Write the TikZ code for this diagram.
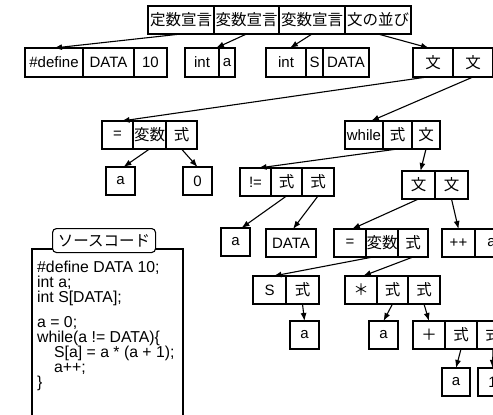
\documentclass[tikz,border=0pt]{standalone}
\usepackage{fontspec}
\setmainfont{Liberation Sans}
\newfontfamily\jp{Noto Sans CJK JP}
\usetikzlibrary{arrows.meta,positioning}

\begin{document}
\begin{tikzpicture}[x=1pt,y=-1pt,
  cell/.style={draw,line width=1.1pt,inner sep=0pt,outer sep=0pt,minimum height=28pt,
    font=\fontsize{15}{18}\selectfont},
  jcell/.style={cell,font=\fontsize{15.5}{18}\selectfont\jp},
  arr/.style={-{Latex[length=8pt,width=6pt]},line width=1.1pt}]

\useasboundingbox (0,0) rectangle (493,415);
\clip (0,0) rectangle (493,415);

% Top row
\node[jcell,minimum width=66pt,anchor=north west] (tdecl) at (148,6) {定数宣言};
\node[jcell,minimum width=65pt,right=0pt of tdecl] (vdeclA) {変数宣言};
\node[jcell,minimum width=66pt,right=0pt of vdeclA] (vdeclB) {変数宣言};
\node[jcell,minimum width=66pt,right=0pt of vdeclB] (slist) {文の並び};

% Declarations and statement list
\node[cell,minimum width=58pt,minimum height=29pt,anchor=north west] (def) at (25,48) {\#define};
\node[cell,minimum width=51pt,minimum height=29pt,right=0pt of def] (defname) {DATA};
\node[cell,minimum width=33pt,minimum height=29pt,right=0pt of defname] (defval) {10};

\node[cell,minimum width=34pt,minimum height=29pt,anchor=north west] (inta) at (185,48) {int};
\node[cell,minimum width=16pt,minimum height=29pt,right=0pt of inta] (intavar) {a};

\node[cell,minimum width=40pt,minimum height=29pt,anchor=north west] (ints) at (266,48) {int};
\node[cell,minimum width=17pt,minimum height=29pt,right=0pt of ints] (intsvar) {S};
\node[cell,minimum width=46pt,minimum height=29pt,right=0pt of intsvar] (intssize) {DATA};

\node[jcell,minimum width=40pt,minimum height=29pt,anchor=north west] (stA) at (413,48) {文};
\node[jcell,minimum width=40pt,minimum height=29pt,right=0pt of stA] (stB) {文};

% a = 0
\node[cell,minimum width=31pt,anchor=north west] (asgop) at (102,121) {=};
\node[jcell,minimum width=33pt,right=0pt of asgop] (asgvar) {変数};
\node[jcell,minimum width=31pt,right=0pt of asgvar] (asgexp) {式};
\node[cell,minimum width=29pt,anchor=north west] (asga) at (106,167) {a};
\node[cell,minimum width=29pt,anchor=north west] (asgzero) at (183,167) {0};

% while
\node[cell,minimum width=38pt,anchor=north west] (whl) at (345,121) {while};
\node[jcell,minimum width=29pt,right=0pt of whl] (whlexp) {式};
\node[jcell,minimum width=28pt,right=0pt of whlexp] (whlstmt) {文};

% condition
\node[cell,minimum width=31pt,anchor=north west] (neop) at (240,168) {!=};
\node[jcell,minimum width=31pt,right=0pt of neop] (neA) {式};
\node[jcell,minimum width=32pt,right=0pt of neA] (neB) {式};
\node[cell,minimum width=29pt,anchor=north west] (nea) at (221,228) {a};
\node[cell,minimum width=50pt,anchor=north west] (nedata) at (266,229) {DATA};

% loop body
\node[jcell,minimum width=33pt,anchor=north west] (bodyA) at (402,171) {文};
\node[jcell,minimum width=33pt,right=0pt of bodyA] (bodyB) {文};

\node[cell,minimum width=32pt,anchor=north west] (setop) at (334,229) {=};
\node[jcell,minimum width=32pt,right=0pt of setop] (setvar) {変数};
\node[jcell,minimum width=30pt,right=0pt of setvar] (setexp) {式};

\node[cell,minimum width=33pt,anchor=north west] (incop) at (442,229) {++};
\node[cell,minimum width=33pt,right=0pt of incop] (incvar) {a};

% S[a]
\node[cell,minimum width=33pt,anchor=north west] (arr) at (253,276) {S};
\node[jcell,minimum width=33pt,right=0pt of arr] (arridx) {式};
\node[cell,minimum width=29pt,anchor=north west] (arra) at (290,321) {a};

% a * (a + 1)
\node[jcell,minimum width=32pt,anchor=north west] (mulop) at (345,276) {＊};
\node[jcell,minimum width=31pt,right=0pt of mulop] (mulA) {式};
\node[jcell,minimum width=32pt,right=0pt of mulA] (mulB) {式};
\node[cell,minimum width=29pt,anchor=north west] (mula) at (369,321) {a};

\node[jcell,minimum width=32pt,anchor=north west] (addop) at (413,321) {＋};
\node[jcell,minimum width=32pt,right=0pt of addop] (addA) {式};
\node[jcell,minimum width=32pt,right=0pt of addA] (addB) {式};
\node[cell,minimum width=28pt,anchor=north west] (adda) at (442,368) {a};
\node[cell,minimum width=29pt,anchor=north west] (addone) at (478,368) {1};

% Arrows
\draw[arr] (tdecl.south) -- (def.north);
\draw[arr] (vdeclA.south) -- ([xshift=-3pt]inta.north east);
\draw[arr] (vdeclB.south) -- ([xshift=4pt]ints.north);
\draw[arr] (slist.south) -- ([xshift=-4pt]stA.north);
\draw[arr] ([xshift=-6pt]stA.south) -- ([xshift=4pt]asgop.north);
\draw[arr] (stB.south) -- ([xshift=7pt]whl.north);
\draw[arr] (asgvar.south) -- ([xshift=3pt]asga.north);
\draw[arr] (asgexp.south) -- (asgzero.north);
\draw[arr] (whlexp.south) -- ([xshift=3pt]neop.north);
\draw[arr] (whlstmt.south) -- ([xshift=2pt]bodyA.north);
\draw[arr] (neA.south) -- ([xshift=6pt]nea.north);
\draw[arr] (neB.south) -- ([xshift=2pt]nedata.north);
\draw[arr] (bodyA.south) -- ([xshift=2pt]setop.north);
\draw[arr] (bodyB.south) -- (incop.north);
\draw[arr] ([xshift=-9pt]setvar.south) -- ([xshift=4pt]arr.north);
\draw[arr] (setexp.south) -- ([xshift=2pt]mulop.north);
\draw[arr] (arridx.south) -- (arra.north);
\draw[arr] (mulA.south) -- (mula.north);
\draw[arr] (mulB.south) -- (addop.north);
\draw[arr] (addA.south) -- (adda.north);
\draw[arr] (addB.south) -- (addone.north);

% Source code
\draw[line width=1.1pt] (32,430) -- (32,249) -- (183,249) -- (183,430);
\node[draw,line width=1.1pt,rounded corners=4pt,fill=white,minimum width=103pt,minimum height=24pt,
  inner sep=0pt,anchor=north west,font=\fontsize{15.5}{18}\selectfont\jp] (srctitle) at (52,228) {ソースコード};
\node[anchor=north west,align=left,inner sep=0pt,font=\fontsize{15.8}{15}\selectfont] (code) at (37,261)
  {\#define DATA 10;\\int a;\\int S[DATA];\\[10pt]a = 0;\\while(a != DATA)\{\\
   \hspace*{17pt}S[a] = a * (a + 1);\\\hspace*{17pt}a++;\\\}};

\end{tikzpicture}
\end{document}
